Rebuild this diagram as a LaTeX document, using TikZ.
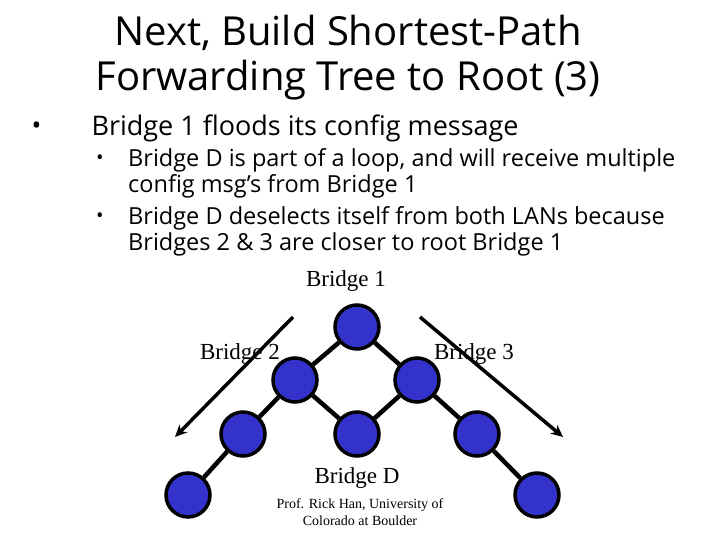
\documentclass[tikz,border=0pt]{standalone}
\usepackage{fontspec}
\usetikzlibrary{arrows.meta}
\setmainfont{Liberation Serif}
\newfontfamily\comic{Open Sans}
\begin{document}
\begin{tikzpicture}[x=1pt,y=-1pt,
  br/.style={circle,draw=black,line width=3.5pt,fill={rgb,255:red,51;green,51;blue,204},minimum size=44pt,inner sep=0pt},
  ln/.style={line width=4.5pt},
  lbl/.style={font=\fontsize{23}{24}\selectfont},
  arr/.style={line width=3.5pt,-{Stealth[length=12pt,width=11pt]}}]
\useasboundingbox (0,0) rectangle (720,540);
\node[font=\comic\fontsize{40}{45}\selectfont,align=center] (title) at (348,58) {Next, Build Shortest-Path\\Forwarding Tree to Root (3)};
\node[font=\comic\fontsize{26}{28}\selectfont,anchor=west] (b0) at (28,128) {\textbullet};
\node[font=\comic\fontsize{27}{28}\selectfont,anchor=west] (b1) at (88,128) {Bridge 1 floods its config message};
\node[font=\comic\fontsize{20}{20}\selectfont] (d1) at (100,160) {\textbullet};
\node[font=\comic\fontsize{20}{20}\selectfont] (d2) at (100,218) {\textbullet};
\node[font=\comic\fontsize{23.5}{26}\selectfont,anchor=north west,align=left,inner sep=0pt] (s1) at (128,148) {Bridge D is part of a loop, and will receive multiple\\config msg’s from Bridge 1};
\node[font=\comic\fontsize{23.5}{26}\selectfont,anchor=north west,align=left,inner sep=0pt] (s2) at (128,206) {Bridge D deselects itself from both LANs because\\Bridges 2 \& 3 are closer to root Bridge 1};
\node[lbl] (l1) at (346,281) {Bridge 1};
\node[lbl] (l2) at (240,354) {Bridge 2};
\node[lbl] (l3) at (474,354) {Bridge 3};
\node[lbl] (lD) at (357,478) {Bridge D};
\node[font=\fontsize{14}{17}\selectfont,align=center] (cr) at (360,512) {Prof. Rick Han, University of\\Colorado at Boulder};
\coordinate (a1s) at (293,317); \coordinate (a1e) at (175,437);
\coordinate (a2s) at (420,317); \coordinate (a2e) at (563,437);
\node[br] (t) at (357,327) {};
\node[br] (n2) at (295,380) {};
\node[br] (n3) at (417,380) {};
\node[br] (lm) at (243,434) {};
\node[br] (d) at (357,434) {};
\node[br] (rm) at (477,434) {};
\node[br] (bl) at (188,495) {};
\node[br] (brr) at (537,495) {};
\draw[ln] (t)--(n2) (t)--(n3) (n2)--(lm) (lm)--(bl) (n2)--(d) (n3)--(d) (n3)--(rm) (rm)--(brr);
\draw[arr] (a1s)--(a1e);
\draw[arr] (a2s)--(a2e);
\end{tikzpicture}
\end{document}
